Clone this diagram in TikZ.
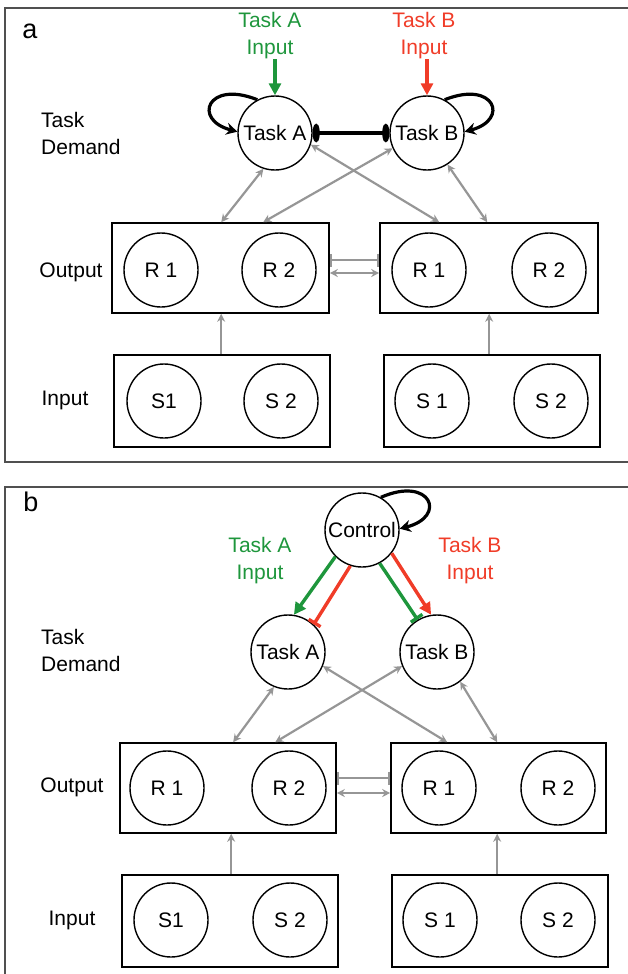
\documentclass[tikz,border=0pt]{standalone}
\usepackage{fontspec}
\setmainfont{Liberation Sans}
\usetikzlibrary{arrows.meta,calc}
\definecolor{tgreen}{RGB}{30,150,60}
\definecolor{tred}{RGB}{240,60,40}
\definecolor{lgray}{RGB}{150,150,150}
\definecolor{fgray}{RGB}{80,80,80}
\newcommand{\fs}{\fontsize{21}{27}\selectfont}
\begin{document}
\begin{tikzpicture}[x=1pt,y=1pt,
  unitnode/.style={circle,draw,line width=1.4pt,minimum size=74pt,inner sep=0pt,font=\fs},
  lbl/.style={inner sep=0pt,font=\fs,align=center},
  panelframe/.style={draw=fgray,line width=2.2pt},
  unitbox/.style={draw,line width=1.6pt,inner sep=0pt},
  conn/.style={lgray,line width=2.2pt,{Stealth[length=8pt,width=8pt]}-{Stealth[length=8pt,width=8pt]}},
  feed/.style={lgray,line width=2.2pt,-{Stealth[length=8pt,width=8pt]}},
  barlink/.style={lgray,line width=2.2pt,{Bar[width=13pt]}-{Bar[width=13pt]}},
  selfloop/.style={line width=3.2pt,-{Stealth[length=11pt,width=12pt]}},
  inhib/.style={line width=3.4pt,{Ellipse[length=7pt,width=18pt]}-{Ellipse[length=7pt,width=18pt]}},
  excite/.style={line width=3.4pt,-{Triangle[length=12pt,width=12pt]}},
  block/.style={line width=3.4pt,-{Bar[width=14pt]}}
]
\useasboundingbox (0,0) rectangle (628,-974);
\clip (0,0) rectangle (628,-974);

% ---------------- panel a ----------------
\draw[panelframe] (5,-8) rectangle (680,-462);
\node[inner sep=0pt,font=\fontsize{27}{30}\selectfont] (la) at (30,-31) {a};
\node[lbl,text=tgreen] (inA) at (270,-36) {Task A\\Input};
\node[lbl,text=tred] (inB) at (424,-36) {Task B\\Input};
\node[unitnode] (TA) at (275,-133) {Task A};
\node[unitnode] (TB) at (427,-133) {Task B};
\node[lbl,align=left,anchor=west] (tdA) at (41,-133) {Task\\Demand};

\node[unitbox,minimum width=217pt,minimum height=90pt] (OL) at (220.5,-268) {};
\node[unitbox,minimum width=218pt,minimum height=90pt] (OR) at (489,-268) {};
\node[unitbox,minimum width=216pt,minimum height=92pt] (IL) at (222,-401) {};
\node[unitbox,minimum width=216pt,minimum height=92pt] (IR) at (492,-401) {};

\node[unitnode] (r1a) at (161,-270) {R 1};
\node[unitnode] (r2a) at (279,-270) {R 2};
\node[unitnode] (r3a) at (429,-270) {R 1};
\node[unitnode] (r4a) at (549,-270) {R 2};
\node[unitnode] (s1a) at (164,-401) {S1};
\node[unitnode] (s2a) at (281,-401) {S 2};
\node[unitnode] (s3a) at (432,-401) {S 1};
\node[unitnode] (s4a) at (551,-401) {S 2};

\node[lbl] (outa) at (71,-272) {Output};
\node[lbl] (ina) at (65,-400) {Input};

\draw[excite,tgreen] (inA.south -| TA.north) -- (TA.north);
\draw[excite,tred] (inB.south -| TB.north) -- (TB.north);
\draw[selfloop] (TA.118) .. controls +(-50,20) and +(-45,12) .. (TA.178);
\draw[selfloop] (TB.62) .. controls +(50,20) and +(45,12) .. (TB.2);
\draw[inhib] (TA.east) -- (TB.west);

\draw[conn] (TA.252) -- ([xshift=110pt]OL.north west);
\draw[conn] (TB.204) -- ([xshift=152pt]OL.north west);
\draw[conn] (TA.342) -- ([xshift=60pt]OR.north west);
\draw[conn] (TB.303) -- ([xshift=108pt]OR.north west);
\draw[feed] ([xshift=108pt]IL.north west) -- ([xshift=108pt]IL.north west |- OL.south);
\draw[feed] ([xshift=106pt]IR.north west) -- ([xshift=106pt]IR.north west |- OR.south);
\draw[barlink] ([yshift=8pt]OL.east) -- ([yshift=8pt]OR.west);
\draw[conn] ([yshift=-5pt]OL.east) -- ([yshift=-5pt]OR.west);

% ---------------- panel b ----------------
\draw[panelframe] (5,-487) rectangle (680,-1000);
\node[inner sep=0pt,font=\fontsize{27}{30}\selectfont] (lb) at (31,-502) {b};
\node[unitnode] (C) at (362,-530) {Control};
\node[lbl,text=tgreen] (inA2) at (260,-561) {Task A\\Input};
\node[lbl,text=tred] (inB2) at (470,-561) {Task B\\Input};
\node[unitnode] (TA2) at (288,-652) {Task A};
\node[unitnode] (TB2) at (437,-652) {Task B};
\node[lbl,align=left,anchor=west] (tdB) at (41,-650) {Task\\Demand};

\node[unitbox,minimum width=216pt,minimum height=90pt] (OL2) at (228,-788) {};
\node[unitbox,minimum width=215pt,minimum height=90pt] (OR2) at (498.5,-788) {};
\node[unitbox,minimum width=216pt,minimum height=92pt] (IL2) at (230,-921) {};
\node[unitbox,minimum width=216pt,minimum height=92pt] (IR2) at (500,-921) {};

\node[unitnode] (r1b) at (167,-788) {R 1};
\node[unitnode] (r2b) at (289,-788) {R 2};
\node[unitnode] (r3b) at (439,-788) {R 1};
\node[unitnode] (r4b) at (558,-788) {R 2};
\node[unitnode] (s1b) at (171,-920) {S1};
\node[unitnode] (s2b) at (290,-920) {S 2};
\node[unitnode] (s3b) at (440,-920) {S 1};
\node[unitnode] (s4b) at (558,-920) {S 2};

\node[lbl] (outb) at (72,-787) {Output};
\node[lbl] (inb) at (72,-920) {Input};

\draw[selfloop] (C.60) .. controls +(50,22) and +(48,12) .. (C.2);
\draw[excite,tgreen] (C.225) -- (TA2.81);
\draw[block,tred] (C.252) -- (TA2.47);
\draw[block,tgreen] (C.298) -- (TB2.121);
\draw[excite,tred] (C.322) -- (TB2.99);

\draw[conn] (TA2.248) -- ([xshift=114pt]OL2.north west);
\draw[conn] (TB2.202) -- ([xshift=156pt]OL2.north west);
\draw[conn] (TA2.338) -- ([xshift=57pt]OR2.north west);
\draw[conn] (TB2.308) -- ([xshift=107pt]OR2.north west);
\draw[feed] ([xshift=110pt]IL2.north west) -- ([xshift=110pt]IL2.north west |- OL2.south);
\draw[feed] ([xshift=106pt]IR2.north west) -- ([xshift=106pt]IR2.north west |- OR2.south);
\draw[barlink] ([yshift=10pt]OL2.east) -- ([yshift=10pt]OR2.west);
\draw[conn] ([yshift=-5pt]OL2.east) -- ([yshift=-5pt]OR2.west);
\end{tikzpicture}
\end{document}
